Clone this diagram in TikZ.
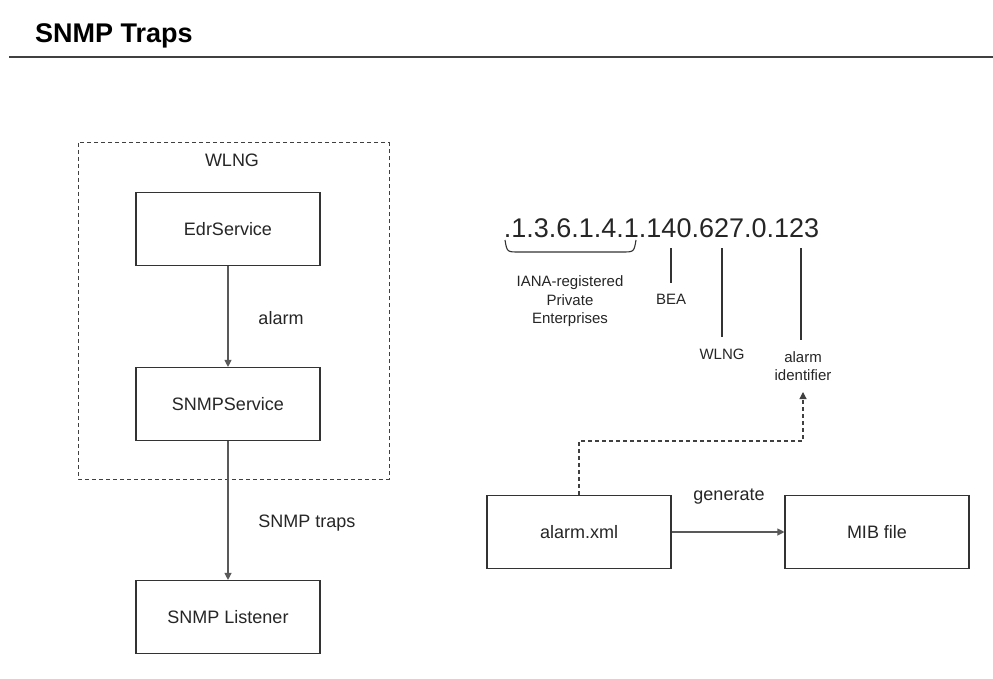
\documentclass[tikz,border=0pt]{standalone}
\usepackage{fontspec}
\setmainfont{Liberation Sans}
\usetikzlibrary{arrows.meta}
\begin{document}
\begin{tikzpicture}[x=1pt,y=-1pt,
  box/.style={draw=black!80,line width=1.1pt,minimum width=184pt,minimum height=73pt,inner sep=0pt,font=\fontsize{18}{21}\selectfont,text=black!85},
  lbl/.style={font=\fontsize{18}{21}\selectfont,text=black!85,inner sep=0pt},
  small/.style={font=\fontsize{15}{18.5}\selectfont,text=black!85,inner sep=2pt,align=center},
  conn/.style={draw=black!65,line width=1.1pt,-{Triangle[length=7pt,width=7pt]}},
  tick/.style={draw=black!80,line width=1.1pt,shorten >=9pt},
  dash box/.style={draw=black!75,line width=1pt,dash pattern=on 4pt off 3pt}]
\useasboundingbox (0,0) rectangle (993,679);
\fill[white] (0,0) rectangle (993,679);
% title
\node[anchor=base west,inner sep=0pt,font=\fontsize{27}{30}\selectfont\bfseries] (title) at (35,43) {SNMP Traps};
\draw[black!75,line width=2pt] (9,57) -- (993,57);
% left column
\draw[dash box] (78,143) rectangle (389,479);
\node[lbl] (wlngbox) at (232,160) {WLNG};
\node[box] (edr) at (228,229) {EdrService};
\node[box] (snmp) at (228,404) {SNMPService};
\node[box] (lis) at (228,617) {SNMP Listener};
\draw[conn] (edr.south) -- (snmp.north);
\draw[conn] (snmp.south) -- (lis.north);
\node[lbl] (alarmlbl) at (281,318) {alarm};
\node[lbl,anchor=base] (traps) at (307,527.5) {SNMP traps};
% OID
\node[anchor=base,inner sep=0pt,font=\fontsize{27}{30}\selectfont,text=black!85] (oid) at (661.5,237) {.1.3.6.1.4.1.140.627.0.123};
\draw[black!80,line width=1.1pt] (505,240) .. controls (507,252) .. (519,252) -- (622,252) .. controls (634,252) .. (636,240);
\node[small] (iana) at (570,301.5) {IANA-registered\\Private\\Enterprises};
\node[small] (bea) at (671,299) {BEA};
\node[small] (wlng) at (722,354) {WLNG};
\node[small] (aid) at (803,366) {alarm\\identifier};
\coordinate (tb) at (671,248);
\coordinate (tw) at (722,248);
\coordinate (ta) at (801,248);
\draw[tick] (tb) -- (bea.north);
\draw[tick] (tw) -- (wlng.north);
\draw[tick] (ta) -- (ta |- aid.north);
% bottom right
\node[box] (xml) at (579,532) {alarm.xml};
\node[box] (mib) at (877,532) {MIB file};
\draw[conn] (xml.east) -- (mib.west);
\node[lbl,anchor=base] (gen) at (729,500) {generate};
\coordinate (turn) at (579,441);
\coordinate (tip) at (803,392);
\draw[draw=black!75,line width=1.1pt,dash pattern=on 4pt off 3pt,-{Triangle[length=7pt,width=7pt]}] (xml.north) -- (turn) -| (tip);
\end{tikzpicture}
\end{document}
